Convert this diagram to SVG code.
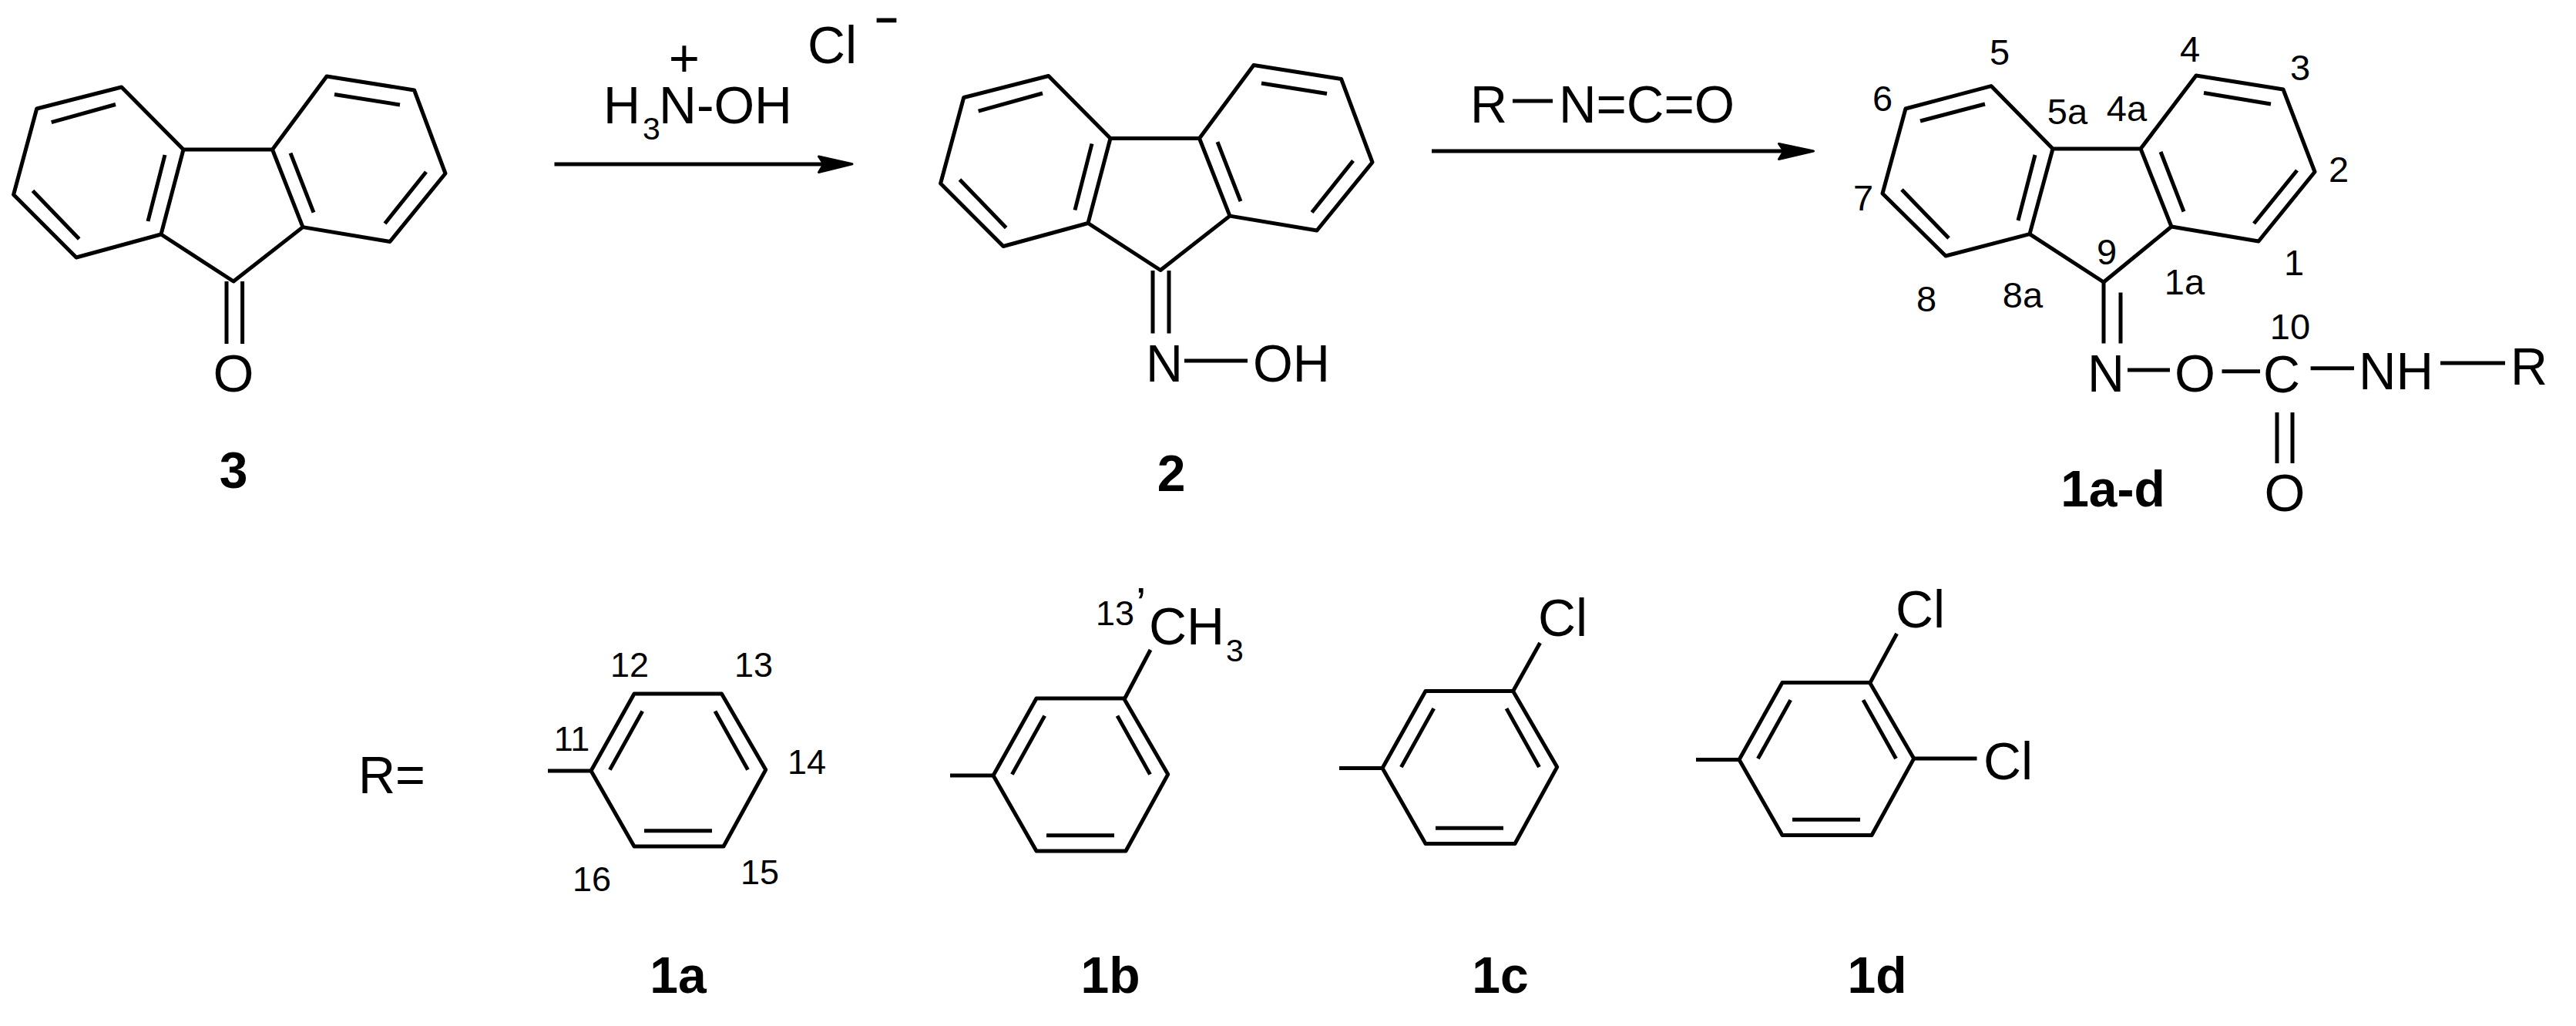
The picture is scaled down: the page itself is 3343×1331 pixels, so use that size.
<svg xmlns="http://www.w3.org/2000/svg" width="3343" height="1331" viewBox="0 0 3343 1331">
<style>
.b{fill:none;stroke:#000;stroke-width:5;stroke-linecap:butt;stroke-linejoin:round}
.arrow{fill:none;stroke:#000;stroke-width:5}
.head{fill:#000;stroke:#000;stroke-width:3;stroke-linejoin:round}
text{font-family:"Liberation Sans",Arial,sans-serif;fill:#000}
.t{font-size:69px}
.s{font-size:41px}
.n{font-size:47px;text-anchor:middle}
.k{font-size:45px;text-anchor:middle}
.l{font-size:66px;font-weight:bold;text-anchor:middle}
.m{font-size:69px;text-anchor:middle}
</style>
<defs>
<g id="fluorene">
<path class="b" d="M238 194L353.5 194L424 99L537.6 117L578 225L506 313.5L393 294.6L353.5 194M393 294.6L303 365L209 304L238 194M209 304L99 334L17.6 252.5L47.7 141L157.7 113L238 194"/>
<path class="b" d="M150 135.5L66.7 158.7M434 122.5L519 136M214 201L192 287M377 198.7L407 275.7M553 223L499.5 290M42.5 247.5L102.7 310"/>
</g>
<g id="phenyl">
<path class="b" d="M767 1000L823 900L936.5 900L993.7 998.6L939 1098L823 1098Z"/>
<path class="b" d="M833.7 922.6L791.4 998.6M928 922.6L970.5 998.6M836 1077.8L924 1077.8M711 1000L767 1000"/>
</g>
</defs>
<g id="connectors">
<path class="arrow" d="M719.5 213L1075 213"/>
<path class="head" d="M1106 212.8L1062.5 203L1069 212.8L1062.5 223.5Z"/>
<path class="arrow" d="M1858 196L2320 196"/>
<path class="head" d="M2353.500 196L2308.500 186.500L2315 196L2308.500 206.500Z"/>
</g>
<g id="reagent-1">
<text class="m" x="888" y="99">+</text>
<text class="t" x="783" y="160" textLength="48" lengthAdjust="spacingAndGlyphs">H</text><text class="s" x="834" y="181">3</text><text class="t" x="855" y="160" textLength="173" lengthAdjust="spacingAndGlyphs">N-OH</text>
<text class="t" x="1048" y="82" textLength="64" lengthAdjust="spacingAndGlyphs">Cl</text>
<text x="1136.500" y="36.800" textLength="28" lengthAdjust="spacingAndGlyphs" style="font-size:40px;stroke:#000;stroke-width:2.500px">-</text>
</g>
<g id="compound-3">
<use href="#fluorene"/>
<path class="b" d="M294 365L294 446M314.6 365L314.6 446"/>
<text class="m" x="303" y="508" textLength="53" lengthAdjust="spacingAndGlyphs">O</text>
<text class="l" x="303" y="633">3</text>
</g>
<g id="compound-2">
<use href="#fluorene" transform="translate(1203 -14.5)"/>
<path class="b" d="M1496 351L1496 432.6M1517 351L1517 432.6"/>
<text class="t" x="1487" y="495" textLength="48" lengthAdjust="spacingAndGlyphs">N</text>
<path class="b" d="M1537 468L1619 468"/>
<text class="t" x="1626" y="495" textLength="100" lengthAdjust="spacingAndGlyphs">OH</text>
<text class="l" x="1520" y="637">2</text>
</g>
<g id="reagent-2">
<text class="t" x="1908" y="159" textLength="48" lengthAdjust="spacingAndGlyphs">R</text>
<path class="b" d="M1963 131L2015 131"/>
<text class="t" x="2023" y="159" textLength="228" lengthAdjust="spacingAndGlyphs">N=C=O</text>
</g>
<g id="compound-1a-d">
<path class="b" d="M2664 193L2778 193L2850 98L2963 116L3004 223L2931 313L2818 294L2778 193M2818 294L2730 366L2634 303.6L2664 193M2634 303.6L2525 332L2443 251L2473 141L2584 111.6L2664 193"/>
<path class="b" d="M2576 135L2492 157M2860 120.5L2947 135M2641 201L2619 286M2804 197L2834 274.5M2981 221L2925 290M2468 246L2529 309"/>
<path class="b" d="M2730 366L2730 445.5M2752 379.5L2752 445.5M2761 480L2816 480M2883.5 481.7L2933 481.7M2998.6 477.7L3055 477.7M3167 471L3251 471M2955 535L2955 601M2975 535L2975 601"/>
<text class="t" x="2709" y="508" textLength="48" lengthAdjust="spacingAndGlyphs">N</text>
<text class="t" x="2822" y="508" textLength="53" lengthAdjust="spacingAndGlyphs">O</text>
<text class="t" x="2937" y="509" textLength="48" lengthAdjust="spacingAndGlyphs">C</text>
<text class="t" x="3061" y="505" textLength="97" lengthAdjust="spacingAndGlyphs">NH</text>
<text class="t" x="3258" y="499" textLength="48" lengthAdjust="spacingAndGlyphs">R</text>
<text class="m" x="2965" y="663" textLength="53" lengthAdjust="spacingAndGlyphs">O</text>
<text class="l" x="2742" y="657">1a-d</text>
<text class="n" x="2595" y="84">5</text>
<text class="n" x="2842" y="80">4</text>
<text class="n" x="2985" y="104">3</text>
<text class="n" x="2443" y="144">6</text>
<text class="n" x="2683" y="161">5a</text>
<text class="n" x="2760" y="157">4a</text>
<text class="n" x="3035" y="236">2</text>
<text class="n" x="2418" y="273">7</text>
<text class="n" x="2734" y="343">9</text>
<text class="n" x="2977" y="357">1</text>
<text class="n" x="2835" y="382">1a</text>
<text class="n" x="2500" y="404">8</text>
<text class="n" x="2625" y="399">8a</text>
<text class="n" x="2972" y="440">10</text>
</g>
<g id="r-label"><text class="t" x="465" y="1029" textLength="87" lengthAdjust="spacingAndGlyphs">R=</text></g>
<g id="r-1a">
<use href="#phenyl"/>
<text class="k" x="817" y="878">12</text>
<text class="k" x="978" y="878">13</text>
<text class="k" x="742" y="974">11</text>
<text class="k" x="1047" y="1004">14</text>
<text class="k" x="986" y="1147">15</text>
<text class="k" x="768" y="1156">16</text>
<text class="l" x="880" y="1288">1a</text>
</g>
<g id="r-1b">
<use href="#phenyl" transform="translate(522 6)"/>
<path class="b" d="M1459.7 906L1493 843"/>
<text class="k" x="1447" y="811">13</text>
<text x="1474" y="804" style="font-size:60px">’</text>
<text class="t" x="1491" y="836" textLength="98" lengthAdjust="spacingAndGlyphs">CH</text><text class="s" x="1591" y="858">3</text>
<text class="l" x="1441" y="1288">1b</text>
</g>
<g id="r-1c">
<use href="#phenyl" transform="translate(1027 -3.5)"/>
<path class="b" d="M1963.6 896.5L1998.6 834"/>
<text class="t" x="1996" y="825" textLength="64" lengthAdjust="spacingAndGlyphs">Cl</text>
<text class="l" x="1947" y="1288">1c</text>
</g>
<g id="r-1d">
<use href="#phenyl" transform="translate(1490 -14.5)"/>
<path class="b" d="M2427 885.6L2461.6 822M2483 984L2565.5 984"/>
<text class="t" x="2460" y="814" textLength="64" lengthAdjust="spacingAndGlyphs">Cl</text>
<text class="t" x="2574" y="1011" textLength="64" lengthAdjust="spacingAndGlyphs">Cl</text>
<text class="l" x="2436" y="1288">1d</text>
</g>
</svg>
